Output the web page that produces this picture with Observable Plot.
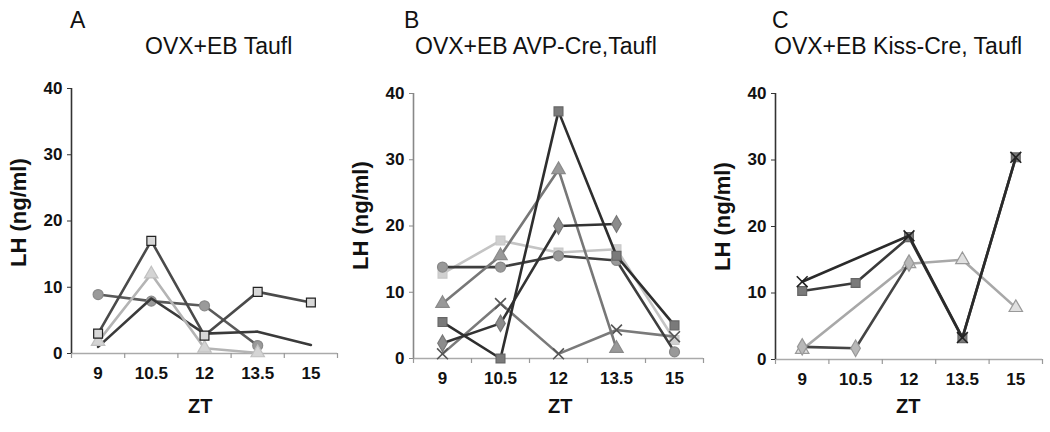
<!DOCTYPE html>
<html><head><meta charset="utf-8">
<script src="https://cdn.jsdelivr.net/npm/d3@7"></script>
<script src="https://cdn.jsdelivr.net/npm/@observablehq/plot@0.6"></script>
<style>
body{margin:0;background:#fff;font-family:"Liberation Sans",Arial,sans-serif;}
#wrap{position:relative;width:1050px;height:432px;overflow:hidden;background:#fff}
.panel{position:absolute;top:0}
.lbl{position:absolute;white-space:nowrap;color:#111;line-height:1}
.ttl{font-size:23px}
.zt{font-size:20px;font-weight:bold}
.ylab{font-size:22px;font-weight:bold;transform-origin:0 0;transform:rotate(-90deg)}
</style></head><body><div id="wrap"></div>
<script>
// ---- data ----
const zt = ["9", "10.5", "12", "13.5", "15"];
const yTicks = [0, 10, 20, 30, 40];
const panelLetters = ["A", "B", "C"];
const panelTitles = ["OVX+EB Taufl", "OVX+EB AVP-Cre,Taufl", "OVX+EB Kiss-Cre, Taufl"];
const yLabel = "LH (ng/ml)";
const xLabel = "ZT";

// Panel A
const aSquare   = [3.0, 17.0, 2.7, 9.3, 7.7];
const aTriangle = [1.8, 12.0, 0.8, 0.1, null];
const aCircle   = [8.9, 7.9, 7.2, 1.2, null];
const aPlain    = [1.0, 8.3, 3.0, 3.3, 1.3];

// Panel B
const bSquare   = [5.5, 0.0, 37.3, 15.5, 5.0];
const bLight    = [12.8, 17.8, 16.0, 16.5, 2.8];
const bTriangle = [8.3, 15.5, 28.5, 1.5, null];
const bDiamond  = [2.3, 5.3, 20.0, 20.3, null];
const bCircle   = [13.8, 13.8, 15.5, 14.8, 1.0];
const bCross    = [0.7, 8.3, 0.7, 4.3, 3.3];

// Panel C
const cCross    = [11.7, null, 18.6, 3.3, 30.4];
const cSquare   = [10.3, 11.5, 18.4, 3.2, 30.4];
const cTriangle = [1.5, null, 14.4, 15.0, 7.8];
const cDiamond  = [1.9, 1.7, 14.5, null, null];

// ---- styles ----
const panels = [
  {left: 0, width: 350, mL: 71, mR: 13, mT: 88, mB: 79, yAxis: "#333",
   series: [
     {v: aCircle,   line: "#5a5a5a", sym: "circle",   fill: "#9a9a9a", stroke: "#8a8a8a"},
     {v: aPlain,    line: "#3a3a3a", sym: null},
     {v: aTriangle, line: "#b4b4b4", sym: "triangle", fill: "#d4d4d4", stroke: "#c0c0c0"},
     {v: aSquare,   line: "#4a4a4a", sym: "square",   fill: "#d8d8d8", stroke: "#222"}
   ]},
  {left: 350, width: 360, mL: 63, mR: 7, mT: 93, mB: 74, yAxis: "#888",
   series: [
     {v: bLight,    line: "#c4c4c4", sym: "square",   fill: "#d0d0d0", stroke: "#c8c8c8"},
     {v: bCross,    line: "#7a7a7a", sym: "times",    fill: "none",    stroke: "#555"},
     {v: bCircle,   line: "#3e3e3e", sym: "circle",   fill: "#999",    stroke: "#888"},
     {v: bTriangle, line: "#777",    sym: "triangle", fill: "#999",    stroke: "#8a8a8a"},
     {v: bDiamond,  line: "#333",    sym: "diamond",  fill: "#8c8c8c", stroke: "#777"},
     {v: bSquare,   line: "#2e2e2e", sym: "square",   fill: "#7a7a7a", stroke: "#666"}
   ]},
  {left: 710, width: 340, mL: 65, mR: 8, mT: 93, mB: 73, yAxis: "#333",
   series: [
     {v: cTriangle, line: "#a8a8a8", sym: "triangle", fill: "#e0e0e0", stroke: "#999"},
     {v: cDiamond,  line: "#444",    sym: "diamond",  fill: "#b8b8b8", stroke: "#999"},
     {v: cSquare,   line: "#3a3a3a", sym: "square",   fill: "#7a7a7a", stroke: "#666"},
     {v: cCross,    line: "#2a2a2a", sym: "times",    fill: "none",    stroke: "#222"}
   ]}
];

const wrap = document.getElementById("wrap");
const idx = zt.map((_, i) => i);
const bounds = [-0.5, 0.5, 1.5, 2.5, 3.5, 4.5];

panels.forEach((p, k) => {
  const marks = [
    Plot.ruleY([0], {stroke: "#aaa", strokeWidth: 1.5}),
    Plot.axisX({ticks: bounds, tickSize: 5, tickFormat: () => "", label: null, stroke: "#999", strokeWidth: 1.2}),
    Plot.axisX({ticks: idx, tickSize: 0, tickPadding: 13, tickFormat: i => zt[i], label: null,
                fontSize: 17, fontWeight: "bold", fill: "#111"}),
    Plot.axisY({ticks: yTicks, tickSize: 4, tickPadding: 5, label: null, stroke: p.yAxis,
                fontSize: 17, fontWeight: "bold", fill: "#111"}),
    Plot.ruleX([-0.5], {y1: 0, y2: 40, stroke: p.yAxis, strokeWidth: 1.6})
  ];
  p.series.forEach(s => {
    const rows = idx.map(i => ({i, v: s.v[i]})).filter(d => d.v != null);
    marks.push(Plot.line(rows, {x: "i", y: "v", stroke: s.line, strokeWidth: 2.6}));
    if (s.sym) marks.push(Plot.dot(rows, {x: "i", y: "v", symbol: s.sym, r: 5,
      fill: s.fill, stroke: s.stroke, strokeWidth: s.sym === "times" ? 1.6 : 1.2}));
  });
  const svg = Plot.plot({
    width: p.width, height: 432,
    marginLeft: p.mL, marginRight: p.mR, marginTop: p.mT, marginBottom: p.mB,
    style: {fontFamily: '"Liberation Sans", Arial, sans-serif', background: "transparent"},
    x: {domain: [-0.5, 4.5], axis: null},
    y: {domain: [0, 40], axis: null},
    marks
  });
  svg.classList.add("panel");
  svg.style.left = p.left + "px";
  wrap.appendChild(svg);
});

function lbl(text, cls, left, top, extra) {
  const d = document.createElement("div");
  d.className = "lbl " + cls;
  d.textContent = text;
  d.style.left = left + "px";
  d.style.top = top + "px";
  if (extra) Object.assign(d.style, extra);
  wrap.appendChild(d);
  return d;
}
// letters and titles
const letterPos = [[70, 9], [404, 9], [772, 9]];
const titlePos = [[145, 35], [415, 35], [774, 35]];
panelLetters.forEach((t, k) => lbl(t, "ttl", letterPos[k][0], letterPos[k][1]));
panelTitles.forEach((t, k) => lbl(t, "ttl", titlePos[k][0], titlePos[k][1]));
// ZT labels (centered)
[200, 560, 908].forEach(cx => {
  const d = lbl(xLabel, "zt", 0, 396);
  d.style.left = (cx - d.offsetWidth / 2) + "px";
});
// y labels (rotated, centered)
[[8, 212], [350, 215], [712, 216]].forEach(([x, cy]) => {
  const d = lbl(yLabel, "ylab", x, 0);
  d.style.top = (cy + d.offsetWidth / 2) + "px";
});
</script></body></html>
